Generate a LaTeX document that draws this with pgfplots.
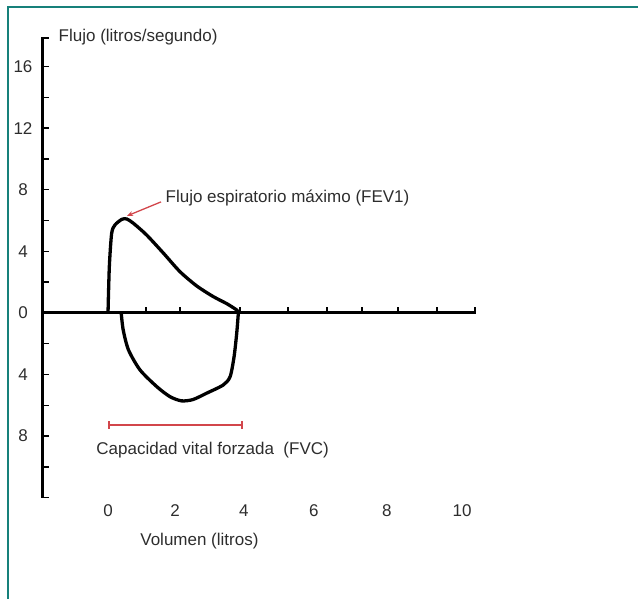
\documentclass[border=0pt]{standalone}
\usepackage{pgfplots}
\pgfplotsset{compat=1.18}
\usetikzlibrary{arrows.meta}
\usepackage{fontspec}
\setmainfont{Liberation Sans}
\definecolor{frame}{RGB}{22,128,122}
\definecolor{txt}{RGB}{45,45,45}
\definecolor{redl}{RGB}{210,70,75}
\newcommand{\fs}{\fontsize{17bp}{19bp}\selectfont}
\begin{document}
\begin{tikzpicture}
\begin{axis}[
  x=33bp, y=15.4bp,
  xmin=-1.97, xmax=11.15, ymin=-12, ymax=17.9,
  axis x line=middle, axis y line=left,
  axis line style={-, line width=3bp, black},
  clip=false,
  hide obscured x ticks=false, hide obscured y ticks=false,
  xtick={1.15,2.18,4.0,5.45,6.64,7.70,8.79,9.97,11.12},
  xticklabels={},
  extra x ticks={0,2.03,4.12,6.24,8.45,10.73},
  extra x tick labels={0,2,4,6,8,10},
  extra x tick style={tick style={draw=none}, xticklabel style={anchor=center, yshift=-198bp}},
  ytick={-8,-4,0,4,8,12,16},
  yticklabels={8,4,0,4,8,12,16},
  minor ytick={-12,-10,-6,-2,2,6,10,14,17.86},
  tick style={black, line width=1.5bp},
  major tick length=6bp, minor tick length=6bp,
  tick align=inside,
  yticklabel style={anchor=center, xshift=-20bp},
  tick label style={font=\fs, text=txt},
  /pgf/number format/assume math mode=true,
]
\addplot[black, line width=3.3bp, smooth, tension=0.45] coordinates {
(0,0)(0.04,3.0)(0.11,5.16)(0.21,5.71)(0.42,6.08)(0.57,6.10)(0.77,5.82)(1.17,5.06)(1.68,3.88)(2.18,2.68)(2.69,1.75)(3.19,1.06)(3.60,0.60)(3.90,0.19)(3.97,0)};
\addplot[black, line width=3.3bp, smooth, tension=0.45] coordinates {
(0.40,0)(0.46,-1.1)(0.62,-2.4)(0.97,-3.7)(1.48,-4.79)(1.88,-5.44)(2.23,-5.71)(2.58,-5.62)(2.99,-5.21)(3.49,-4.68)(3.70,-4.14)(3.82,-2.84)(3.90,-1.32)(3.95,0)};
\addplot[redl, line width=2bp, {Bar[width=8bp]}-{Bar[width=8bp]}] coordinates {(0,-7.27)(4.09,-7.27)};
\node[anchor=west, font=\fs, text=txt] at (axis cs:-1.6,17.92) {Flujo (litros/segundo)};
\node[anchor=west, font=\fs, text=txt] at (axis cs:1.64,7.47) {Flujo espiratorio máximo (FEV1)};
\draw[redl, line width=1.3bp, -{Stealth[length=6bp,width=5bp]}] (axis cs:1.606,7.21) -- (axis cs:0.576,6.30);
\node[font=\fs, text=txt] at (axis cs:3.17,-8.9) {Capacidad vital forzada\ \ (FVC)};
\node[font=\fs, text=txt] at (axis cs:2.77,-14.8) {Volumen (litros)};
\draw[frame, line width=2.5bp] (axis cs:-3.03,-18.57) -- (axis cs:-3.03,19.87) -- (axis cs:16.06,19.87);
\coordinate (bl) at (axis cs:-3.273,-18.57);
\coordinate (tr) at (axis cs:16.06,20.32);
\end{axis}
\pgfresetboundingbox
\path[use as bounding box] (bl) rectangle (tr);
\end{tikzpicture}
\end{document}
